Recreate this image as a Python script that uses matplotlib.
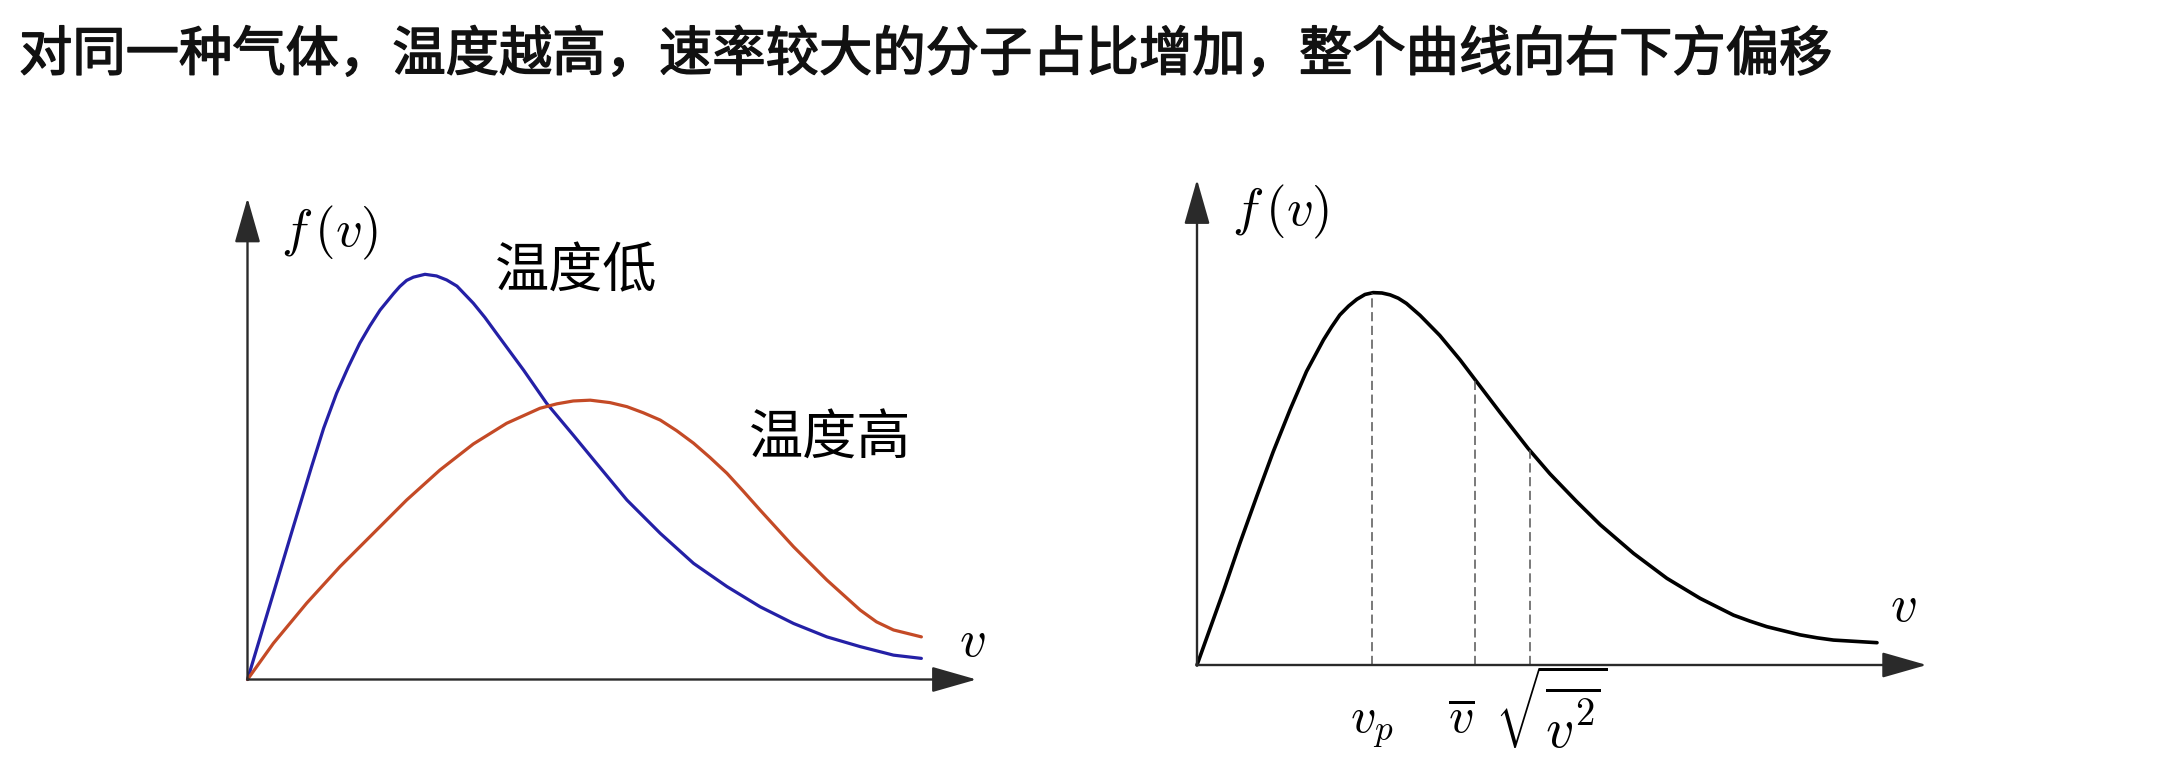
import matplotlib
matplotlib.use("Agg")
import matplotlib.pyplot as plt
import matplotlib.patheffects as pe

plt.rcParams['font.family'] = ['Noto Sans CJK SC', 'DejaVu Sans']
plt.rcParams['mathtext.fontset'] = 'cm'

W, H, DPI = 2164, 774, 100

TITLE = "对同一种气体，温度越高，速率较大的分子占比增加，整个曲线向右下方偏移"

# left panel: two speed distributions
# (v in arbitrary units, f scaled so the low-temperature peak is 1)
v_low = [0.00, 0.38, 0.67, 0.94, 1.12, 1.31, 1.48, 1.65, 1.80, 1.95, 2.15, 2.24, 2.34,
         2.44, 2.61, 2.78, 2.93, 3.08, 3.32, 3.49, 3.66, 4.06, 4.40, 4.79, 5.09, 5.58,
         6.07, 6.56, 7.05, 7.54, 8.03, 8.52, 9.01, 9.50, 9.91]
f_low = [0.000, 0.212, 0.374, 0.523, 0.619, 0.705, 0.769, 0.828, 0.871, 0.910, 0.951,
         0.968, 0.983, 0.991, 0.998, 0.994, 0.984, 0.969, 0.927, 0.892, 0.853, 0.762,
         0.680, 0.602, 0.541, 0.442, 0.360, 0.286, 0.229, 0.179, 0.138, 0.105, 0.081,
         0.060, 0.052]

v_high = [0.00, 0.38, 0.87, 1.36, 1.85, 2.34, 2.83, 3.32, 3.81, 4.30, 4.55, 4.79, 5.04,
          5.33, 5.58, 5.82, 6.07, 6.31, 6.56, 6.80, 7.05, 7.29, 7.54, 8.03, 8.52, 9.01,
          9.25, 9.50, 9.91]
f_high = [0.000, 0.089, 0.188, 0.278, 0.360, 0.442, 0.516, 0.580, 0.631, 0.668, 0.679,
          0.686, 0.688, 0.682, 0.672, 0.657, 0.639, 0.613, 0.582, 0.547, 0.508, 0.464,
          0.417, 0.327, 0.245, 0.171, 0.142, 0.122, 0.105]
labels_left = ["温度低", "温度高"]

# right panel: one distribution with its characteristic speeds
v_curve = [0.00, 0.19, 0.39, 0.63, 0.88, 1.12, 1.37, 1.61, 1.86, 1.98, 2.10, 2.23, 2.35,
           2.47, 2.59, 2.72, 2.84, 2.96, 3.08, 3.28, 3.57, 3.87, 4.09, 4.46, 4.87, 5.19,
           5.58, 5.93, 6.42, 6.91, 7.40, 7.89, 8.13, 8.38, 8.87, 9.12, 9.36, 10.00]
f_curve = [0.000, 0.097, 0.199, 0.327, 0.454, 0.573, 0.687, 0.789, 0.874, 0.909, 0.941,
           0.965, 0.983, 0.996, 1.001, 1.000, 0.995, 0.986, 0.972, 0.940, 0.886, 0.820,
           0.767, 0.678, 0.582, 0.514, 0.440, 0.377, 0.300, 0.233, 0.179, 0.134, 0.118,
           0.103, 0.081, 0.073, 0.067, 0.060]
v_marks = [2.57, 4.09, 4.89]
f_marks = [1.00, 0.767, 0.578]
mark_labels = [r"$v_p$", r"$\overline{v}$", r"$\sqrt{\overline{v^2}}$"]

BLUE = "#2420a6"
RED = "#c44a26"
AXIS = "#2a2a2a"

PX_X = 68.0  # pixels per v unit


def make_axes(fig, x0, y0, xmax, ymax, px_y):
    ax = fig.add_axes([x0 / W, (H - y0) / H, xmax * PX_X / W, ymax * px_y / H])
    ax.set_xlim(0, xmax)
    ax.set_ylim(0, ymax)
    ax.axis("off")
    arrow = dict(arrowstyle="-|>,head_length=2.8,head_width=0.8", lw=1.7,
                 color=AXIS, shrinkA=0, shrinkB=0, mutation_scale=10)
    ax.annotate("", xy=(xmax, 0), xytext=(0, 0), arrowprops=arrow, annotation_clip=False)
    ax.annotate("", xy=(0, ymax), xytext=(0, 0), arrowprops=arrow, annotation_clip=False)
    return ax


fig = plt.figure(figsize=(W / DPI, H / DPI), dpi=DPI)
fig.text(19 / W, 1 - 55 / H, TITLE, fontsize=38.4, color="#111111",
         ha="left", va="center",
         path_effects=[pe.withStroke(linewidth=1.1, foreground="#111111")])

# left panel
ax1 = make_axes(fig, 247.5, 679.5, 10.72, 1.186, 406.0)
ax1.plot(v_low, f_low, color=BLUE, lw=2.3, clip_on=False,
         solid_capstyle="round", solid_joinstyle="round")
ax1.plot(v_high, f_high, color=RED, lw=2.3, clip_on=False,
         solid_capstyle="round", solid_joinstyle="round")
ax1.text(1.21, 1.10, r"$f\,(v)$", fontsize=38, ha="center", va="center")
ax1.text(10.66, 0.097, r"$v$", fontsize=38, ha="center", va="center")
ax1.text(4.84, 1.004, labels_left[0], fontsize=39, fontweight="light", ha="center", va="center")
ax1.text(8.57, 0.592, labels_left[1], fontsize=39, fontweight="light", ha="center", va="center")

# right panel
ax2 = make_axes(fig, 1197, 665, 10.73, 1.305, 372.0)
ax2.plot(v_curve, f_curve, color="black", lw=2.6, clip_on=False,
         solid_capstyle="round", solid_joinstyle="round")
ax2.vlines(v_marks, 0, f_marks, colors="#555555", linestyles=(0, (6, 3)), lw=1.1)
ax2.text(1.22, 1.218, r"$f\,(v)$", fontsize=38, ha="center", va="center")
ax2.text(10.38, 0.161, r"$v$", fontsize=38, ha="center", va="center")
label_x = [2.57, 3.89, 5.21]
label_top = [-0.090, -0.073, -0.022]
label_size = [36, 36, 40]
for lx, ly, fs, lab in zip(label_x, label_top, label_size, mark_labels):
    ax2.text(lx, ly, lab, fontsize=fs, ha="center", va="top")

fig.savefig("out.png", dpi=DPI, facecolor="white")
